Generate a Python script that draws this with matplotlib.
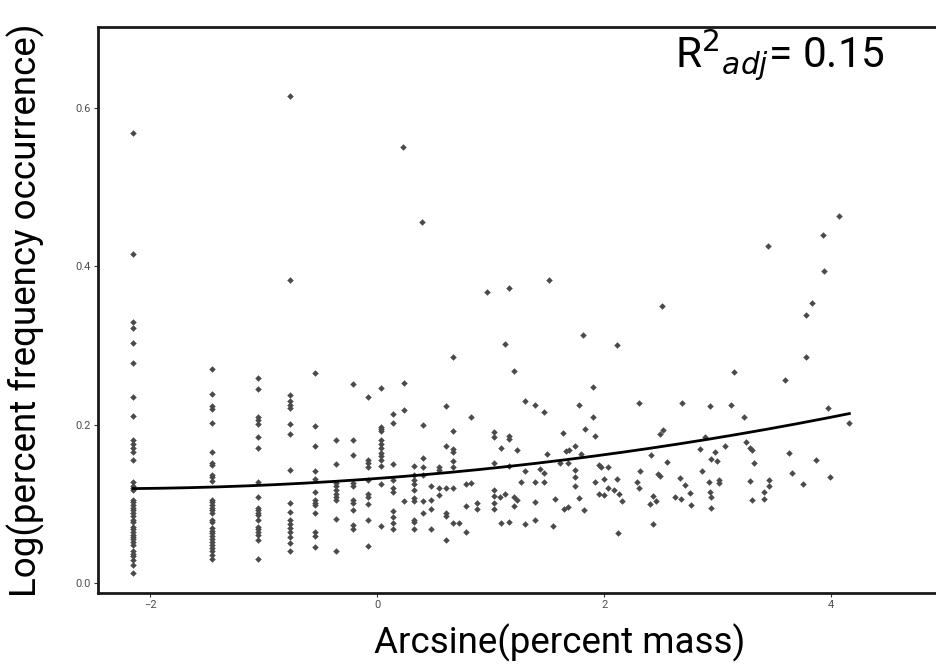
import numpy as np
import matplotlib.pyplot as plt

plt.rcParams['font.family'] = ['Roboto', 'DejaVu Sans']

# stacked columns of points sharing one x value
col_x = [-2.15, -1.46, -1.05, -0.77, -0.55, -0.36, -0.21, -0.08, 0.035, 0.14, 0.32, 0.40, 0.67, 1.03]
col_y = [
    [0.568, 0.415, 0.329, 0.322, 0.303, 0.278, 0.235, 0.211, 0.181, 0.176, 0.170, 0.165, 0.155,
     0.127, 0.123, 0.120, 0.117, 0.105, 0.102, 0.099, 0.095, 0.092, 0.088, 0.084, 0.080, 0.077,
     0.071, 0.068, 0.065, 0.061, 0.058, 0.055, 0.052, 0.048, 0.041, 0.037, 0.034, 0.029, 0.023, 0.013],
    [0.270, 0.239, 0.224, 0.220, 0.202, 0.166, 0.151, 0.149, 0.137, 0.134, 0.129, 0.105, 0.102,
     0.099, 0.095, 0.092, 0.089, 0.080, 0.077, 0.069, 0.066, 0.063, 0.059, 0.055, 0.052, 0.048,
     0.044, 0.040, 0.035, 0.030],
    [0.259, 0.245, 0.209, 0.206, 0.201, 0.184, 0.170, 0.127, 0.108, 0.095, 0.092, 0.089, 0.086,
     0.080, 0.071, 0.068, 0.065, 0.061, 0.054, 0.030],
    [0.615, 0.382, 0.237, 0.230, 0.225, 0.221, 0.201, 0.188, 0.143, 0.101, 0.090, 0.080, 0.075,
     0.070, 0.065, 0.058, 0.050, 0.041],
    [0.265, 0.198, 0.173, 0.141, 0.131, 0.115, 0.105, 0.101, 0.099, 0.089, 0.064, 0.059, 0.045],
    [0.180, 0.150, 0.126, 0.122, 0.117, 0.113, 0.109, 0.105, 0.081, 0.041],
    [0.251, 0.180, 0.162, 0.126, 0.122, 0.105, 0.101, 0.092, 0.073, 0.068],
    [0.235, 0.155, 0.151, 0.147, 0.130, 0.113, 0.109, 0.100, 0.080, 0.047],
    [0.246, 0.197, 0.194, 0.192, 0.181, 0.176, 0.170, 0.164, 0.160, 0.155, 0.148, 0.125, 0.072],
    [0.213, 0.202, 0.150, 0.130, 0.120, 0.115, 0.091, 0.083, 0.076, 0.068],
    [0.148, 0.137, 0.130, 0.125, 0.118, 0.107, 0.104, 0.080, 0.077, 0.068],
    [0.199, 0.158, 0.147, 0.136, 0.104, 0.089],
    [0.285, 0.192, 0.169, 0.165, 0.154, 0.146, 0.120, 0.076],
    [0.191, 0.184, 0.151, 0.118, 0.110, 0.101, 0.093],
]

# remaining scattered points
pts_x = [0.229, 0.396, 0.238, 0.238, 0.238, 0.476, 0.476, 0.476, 0.476, 0.546, 0.546, 0.546, 0.546,
         0.608, 0.608, 0.608, 0.608, 0.608, 0.608, 0.722, 0.78, 0.78, 0.78, 0.828, 0.828, 0.878, 0.878,
         0.966,
         1.163, 1.515, 1.128, 1.201, 1.812, 2.112, 1.90, 1.298, 1.386, 1.471, 1.774, 1.90, 1.826,
         1.163, 1.163, 1.092, 1.23, 1.636, 1.915, 1.738, 1.662, 1.686, 1.495, 1.797, 1.157, 1.298,
         1.436, 1.471, 1.606, 1.68, 1.738, 1.738, 1.95, 1.974, 2.029, 1.266, 1.386, 1.471, 1.915,
         2.0, 2.112, 1.084, 1.128, 1.201, 1.231, 1.201, 1.386, 1.568, 1.738, 1.774, 2.029, 2.082,
         1.95, 1.994, 2.132, 1.641, 1.68, 1.818, 1.092, 1.163, 1.298, 1.386, 1.544, 2.121,
         2.508, 3.145, 2.302, 2.685, 2.928, 3.119, 3.235, 2.517, 2.493, 2.884, 2.414, 2.552, 2.840,
         2.972, 3.066, 2.943, 2.993, 2.317, 2.288, 2.302, 2.473, 2.493, 2.861, 2.670, 2.714, 2.919,
         3.007, 3.013, 2.758, 2.928, 2.156, 2.425, 2.455, 2.399, 2.619, 2.676, 2.943, 2.767, 2.943,
         2.425, 3.25,
         4.07, 3.924, 3.933, 3.439, 3.83, 3.777, 3.777, 3.595, 3.968, 4.159, 3.624, 3.868, 3.654,
         3.985, 3.751, 3.286, 3.30, 3.322, 3.281, 3.448, 3.454, 3.404, 3.404, 3.30]
pts_y = [0.551, 0.456, 0.253, 0.219, 0.103, 0.122, 0.105, 0.093, 0.068, 0.146, 0.143, 0.120, 0.111,
         0.224, 0.173, 0.120, 0.088, 0.085, 0.054, 0.076, 0.125, 0.097, 0.065, 0.210, 0.126, 0.101, 0.094,
         0.367,
         0.373, 0.382, 0.302, 0.268, 0.313, 0.300, 0.247, 0.230, 0.225, 0.216, 0.225, 0.209, 0.195,
         0.185, 0.182, 0.170, 0.168, 0.189, 0.186, 0.173, 0.167, 0.168, 0.163, 0.163, 0.148, 0.141,
         0.144, 0.139, 0.151, 0.152, 0.143, 0.134, 0.149, 0.146, 0.146, 0.128, 0.127, 0.127, 0.127,
         0.131, 0.131, 0.109, 0.113, 0.109, 0.105, 0.097, 0.102, 0.106, 0.122, 0.107, 0.120, 0.118,
         0.112, 0.111, 0.113, 0.093, 0.096, 0.092, 0.076, 0.077, 0.074, 0.080, 0.072, 0.063,
         0.350, 0.266, 0.227, 0.227, 0.224, 0.225, 0.209, 0.193, 0.188, 0.184, 0.162, 0.153, 0.169,
         0.165, 0.173, 0.157, 0.154, 0.141, 0.128, 0.120, 0.138, 0.135, 0.142, 0.133, 0.124, 0.127,
         0.130, 0.126, 0.114, 0.115, 0.104, 0.110, 0.104, 0.100, 0.109, 0.106, 0.108, 0.098, 0.095,
         0.074, 0.178,
         0.463, 0.440, 0.394, 0.426, 0.354, 0.339, 0.285, 0.256, 0.221, 0.202, 0.164, 0.155, 0.139,
         0.134, 0.125, 0.170, 0.168, 0.151, 0.129, 0.130, 0.123, 0.115, 0.106, 0.105]

# fitted trend (quadratic, coefficients: c2, c1, c0)
fit_coef = [0.00218, 0.01063, 0.132]
r2_adj = 0.15

x = np.concatenate([np.full(len(ys), cx) for cx, ys in zip(col_x, col_y)] + [np.array(pts_x)])
y = np.concatenate([np.array(ys) for ys in col_y] + [np.array(pts_y)])

xf = np.linspace(x.min(), x.max(), 200)
yf = np.polyval(fit_coef, xf)

fig = plt.figure(figsize=(9.36, 6.64), dpi=100)
# panel runs past the right edge of the picture (the original was cropped there)
ax = fig.add_axes([98 / 936, 71 / 664, 924 / 936, 566 / 664])

ax.scatter(x, y, marker='D', s=11, color='#4a4a4a', linewidths=0, zorder=2)
ax.plot(xf, yf, color='black', lw=2, zorder=3)

ax.set_xlim(-2.46, 5.68)
ax.set_ylim(-0.0126, 0.702)
ax.set_xticks([-2, 0, 2, 4])
ax.set_yticks([0.0, 0.2, 0.4, 0.6])
ax.set_yticklabels(['0.0', '0.2', '0.4', '0.6'])
ax.tick_params(labelsize=8, labelcolor='#4d4d4d', color='#333333', length=3, width=0.8, pad=2)

for s in ['left', 'bottom', 'top']:
    ax.spines[s].set_linewidth(2)
    ax.spines[s].set_color('#1a1a1a')
ax.spines['right'].set_visible(False)

ax.set_xlabel('Arcsine(percent mass)', fontsize=26.5, labelpad=10)
ax.set_ylabel('Log(percent frequency occurrence)', fontsize=26.5, labelpad=22)

ax.text((675 - 98) / 924, 0.95, r'R$^{2}$$_{adj}$= %.2f' % r2_adj, transform=ax.transAxes,
        fontsize=30.5, ha='left', va='center')

fig.savefig('out.png', dpi=100)
